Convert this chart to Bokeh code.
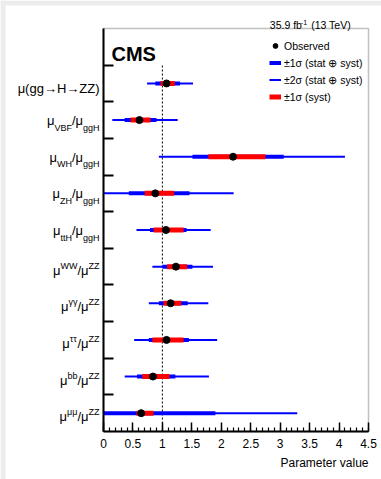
from bokeh.plotting import figure
from bokeh.models import (ColumnDataSource, Label, Legend, LegendItem, FixedTicker, Range1d,
                          LinearAxis, BoxAnnotation)
from bokeh.embed import file_html
from bokeh.resources import INLINE

# ---------------- data (top to bottom) ----------------
params = ["gg→H→ZZ", "VBF", "WH", "ZH", "ttH", "WW", "γγ", "ττ", "bb", "μμ"]
denoms = ["", "ggH", "ggH", "ggH", "ggH", "ZZ", "ZZ", "ZZ", "ZZ", "ZZ"]
styles = ["plain", "sub", "sub", "sub", "sub", "sup", "sup", "sup", "sup", "sup"]
observed = [1.07, 0.61, 2.20, 0.88, 1.06, 1.23, 1.14, 1.07, 0.84, 0.64]
lo_1sigma = [0.88, 0.36, 1.51, 0.43, 0.79, 1.00, 0.94, 0.77, 0.57, 0.00]
hi_1sigma = [1.30, 0.90, 3.06, 1.46, 1.41, 1.51, 1.43, 1.45, 1.22, 1.90]
lo_2sigma = [0.74, 0.15, 0.94, 0.00, 0.56, 0.83, 0.77, 0.52, 0.36, 0.00]
hi_2sigma = [1.52, 1.26, 4.10, 2.21, 1.82, 1.86, 1.78, 1.93, 1.79, 3.29]
lo_syst = [0.97, 0.46, 1.78, 0.70, 0.85, 1.08, 1.02, 0.83, 0.66, 0.56]
hi_syst = [1.21, 0.80, 2.75, 1.20, 1.36, 1.42, 1.32, 1.36, 1.12, 0.85]
sm_value = 1.0
xticks = [0, 0.5, 1, 1.5, 2, 2.5, 3, 3.5, 4, 4.5]
xtick_labels = ["0", "0.5", "1", "1.5", "2", "2.5", "3", "3.5", "4", "4.5"]
legend_labels = ["Observed", "±1σ (stat ⊕ syst)", "±2σ (stat ⊕ syst)", "±1σ (syst)"]

# ---------------- geometry (canvas pixels) ----------------
W, H = 381, 479
FL, FR, FT, FB = 103, 368, 28, 431          # plot box edges on the canvas
xmin, xmax = 0.0, 4.5
n = len(params)
ymin, ymax = 0.0, n + 1.0
px_x = (FR - FL) / (xmax - xmin)
px_y = (FB - FT) / (ymax - ymin)
x_start = xmin - FL / px_x
x_end = xmax + (W - FR) / px_x
y_end = ymax + FT / px_y
y_start = ymin - (H - FB) / px_y


def data_y(py):
    return y_end - py / px_y


ys = [n - i - 0.5 for i in range(n)]
src = ColumnDataSource(dict(y=ys, obs=observed, lo1=lo_1sigma, hi1=hi_1sigma,
                            lo2=lo_2sigma, hi2=hi_2sigma, los=lo_syst, his=hi_syst))

p = figure(width=W, height=H, output_backend="svg", toolbar_location=None,
           x_range=Range1d(x_start, x_end), y_range=Range1d(y_start, y_end),
           x_axis_type=None, y_axis_type=None,
           min_border_left=0, min_border_right=0, min_border_top=0, min_border_bottom=0)
p.background_fill_color = "white"
p.border_fill_color = "white"
p.outline_line_color = None
p.xgrid.visible = False
p.ygrid.visible = False

FONT = "Liberation Sans"

# page-edge grey strips (left and top)
p.add_layout(BoxAnnotation(left=x_start, right=x_start + 5 / px_x, bottom=y_start, top=y_end,
                           fill_color="#ececec", fill_alpha=1, line_color=None, level="underlay"))
p.add_layout(BoxAnnotation(left=x_start, right=x_end, bottom=y_end - 5 / px_y, top=y_end,
                           fill_color="#ececec", fill_alpha=1, line_color=None, level="underlay"))

# plot box
p.add_layout(BoxAnnotation(left=xmin, right=xmax, bottom=ymin, top=ymax, fill_alpha=0,
                           line_color="#333333", line_width=1.5, level="underlay"))

# x axis
xa = LinearAxis(fixed_location=ymin, bounds=(xmin, xmax))
xa.ticker = FixedTicker(ticks=xticks, minor_ticks=[round(k * 0.1, 1) for k in range(46)])
xa.major_label_overrides = {t: l for t, l in zip(xticks, xtick_labels)}
xa.major_tick_in = 9
xa.major_tick_out = 0
xa.minor_tick_in = 4
xa.minor_tick_out = 0
xa.axis_line_width = 2
xa.axis_line_color = "black"
xa.major_tick_line_width = 1.5
xa.minor_tick_line_width = 1.2
xa.major_tick_line_color = "black"
xa.minor_tick_line_color = "black"
xa.major_label_text_font = FONT
xa.major_label_text_font_size = "12px"
xa.major_label_text_color = "black"
xa.major_label_standoff = 7
p.add_layout(xa, "below")

# y axis
ya = LinearAxis(fixed_location=xmin, bounds=(ymin, ymax))
ya.ticker = FixedTicker(ticks=list(range(1, n + 1)), minor_ticks=[])
ya.major_label_overrides = {i: "" for i in range(1, n + 1)}
ya.major_tick_in = 10
ya.major_tick_out = 0
ya.minor_tick_in = 0
ya.minor_tick_out = 0
ya.axis_line_width = 2
ya.axis_line_color = "black"
ya.major_tick_line_width = 2
ya.major_tick_line_color = "black"
p.add_layout(ya, "left")

# reference line at the SM value
p.segment(x0=[sm_value], y0=[ymin], x1=[sm_value], y1=[n], line_color="black",
          line_width=1, line_dash="2 2")

r2 = p.segment(x0="lo2", y0="y", x1="hi2", y1="y", source=src, line_color="#0000ff", line_width=2)
r1 = p.segment(x0="lo1", y0="y", x1="hi1", y1="y", source=src, line_color="#0000ff", line_width=4)
rs = p.segment(x0="los", y0="y", x1="his", y1="y", source=src, line_color="#ff0000", line_width=5)
ro = p.scatter(x="obs", y="y", source=src, size=7, color="black")

legend = Legend(items=[
    LegendItem(label=legend_labels[0], renderers=[ro]),
    LegendItem(label=legend_labels[1], renderers=[r1]),
    LegendItem(label=legend_labels[2], renderers=[r2]),
    LegendItem(label=legend_labels[3], renderers=[rs]),
], location=(269, H - 37 - 4 * 17))
legend.border_line_color = None
legend.background_fill_alpha = 0
legend.padding = 0
legend.margin = 0
legend.spacing = 0
legend.glyph_width = 12
legend.glyph_height = 17
legend.label_height = 17
legend.label_standoff = 3
legend.label_text_font = FONT
legend.label_text_font_size = "10.5px"
legend.label_text_color = "black"
p.add_layout(legend)

# category labels with sub/superscripts
CW = {"μ": 0.576, "/": 0.278, "(": 0.333, ")": 0.333, "g": 0.556, "H": 0.722, "→": 1.0,
      "Z": 0.611, "V": 0.667, "B": 0.667, "F": 0.611, "W": 0.944, "t": 0.278, "b": 0.556,
      "γ": 0.5, "τ": 0.43, " ": 0.278}


def tw(s, fs):
    return sum(CW.get(c, 0.556) for c in s) * fs


for i, (num, den, sty) in enumerate(zip(params, denoms, styles)):
    yc = ys[i]
    if sty == "plain":
        pieces = [("μ(" + num + ")", 13, 5)]
    elif sty == "sub":
        pieces = [("μ", 13, 0.5), (num, 9, 7.5), ("/μ", 13, 0.5), (den, 9, 7.5)]
    else:
        pieces = [("μ", 13, 3.5), (num, 9, -1), ("/μ", 13, 3.5), (den, 9, -1)]
    total = sum(tw(t, f) for t, f, _ in pieces)
    cur = -4 - total
    for t, f, dy in pieces:
        p.add_layout(Label(x=xmin, y=yc - dy / px_y, x_offset=cur, text=t,
                           text_font=FONT, text_font_size=f"{f}px", text_color="black",
                           text_align="left", text_baseline="alphabetic"))
        cur += tw(t, f)

# CMS
p.add_layout(Label(x=xmin, y=data_y(53.3), x_offset=8, text="CMS",
                   text_font=FONT, text_font_size="20px", text_font_style="bold",
                   text_color="black", text_align="left", text_baseline="alphabetic"))

# luminosity text
p.add_layout(Label(x=xmin, y=data_y(24.5), x_offset=166.3, text="35.9 fb", text_font=FONT,
                   text_font_size="10.5px", text_color="black", text_baseline="alphabetic"))
p.add_layout(Label(x=xmin, y=data_y(21.5), x_offset=197.3, text="-1", text_font=FONT,
                   text_font_size="7px", text_color="black", text_baseline="alphabetic"))
p.add_layout(Label(x=xmin, y=data_y(24.5), x_offset=207.7, text="(13 TeV)", text_font=FONT,
                   text_font_size="10.5px", text_color="black", text_baseline="alphabetic"))

# axis title
p.add_layout(Label(x=xmax, y=data_y(462.5), x_offset=0, text="Parameter value",
                   text_font=FONT, text_font_size="12px", text_color="black",
                   text_align="right", text_baseline="alphabetic"))

open("out.html", "w").write(file_html(p, INLINE))
